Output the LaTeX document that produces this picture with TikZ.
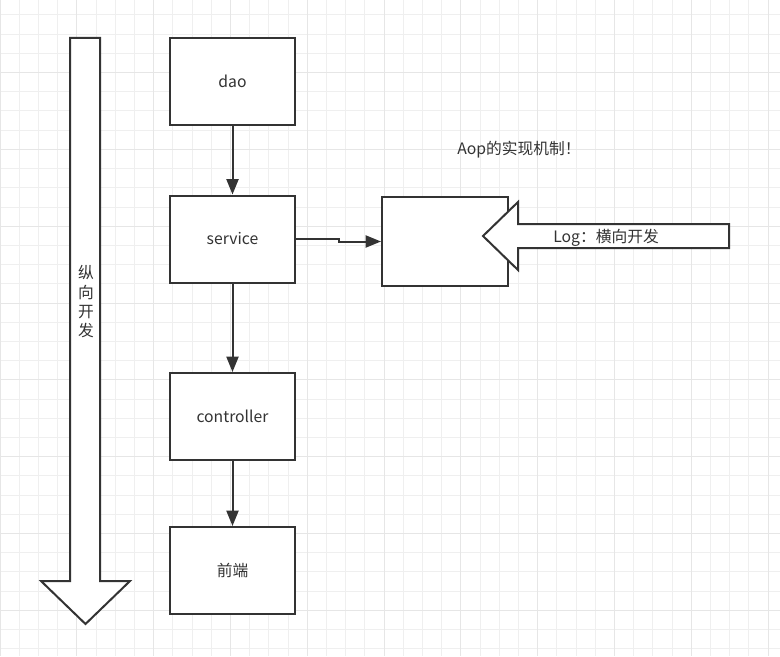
\documentclass[tikz,border=0pt]{standalone}
\usepackage{fontspec}
\setmainfont{Noto Sans CJK SC}
\usetikzlibrary{arrows.meta}
\definecolor{ink}{HTML}{333333}
\definecolor{gridminor}{HTML}{EFEFEF}
\definecolor{gridmajor}{HTML}{E6E6E6}

\begin{document}
\begin{tikzpicture}[x=0.75pt,y=-0.75pt,
    layer/.style={draw=ink,line width=1.5pt,fill=white,text=ink,
      minimum width=93.75pt,minimum height=65.25pt,font=\fontsize{11.8}{13}\selectfont},
    link/.style={draw=ink,line width=1.5pt,-{Triangle[length=11.5pt,width=9pt]}},
    fat/.style={draw=ink,line width=1.5pt,fill=white,line join=miter},
    note/.style={text=ink,font=\fontsize{11.8}{13}\selectfont}]
  \useasboundingbox (0,0) rectangle (780,656);
  %% grid
  \foreach \i in {0,...,40} {
    \pgfmathsetmacro\gx{19.2*\i}
    \draw[gridminor,line width=0.75pt] (\gx,0) -- (\gx,656);
  }
  \foreach \j in {-1,...,34} {
    \pgfmathsetmacro\gy{15+19.2*\j}
    \draw[gridminor,line width=0.75pt] (0,\gy) -- (780,\gy);
  }
  \foreach \i in {0,...,10} {
    \pgfmathsetmacro\gx{76.8*\i}
    \draw[gridmajor,line width=0.75pt] (\gx,0) -- (\gx,656);
  }
  \foreach \j in {0,...,8} {
    \pgfmathsetmacro\gy{72.6+76.8*\j-76.8}
    \draw[gridmajor,line width=0.75pt] (0,\gy) -- (780,\gy);
  }

  %% vertical development arrow
  \draw[fat] (70,38) -- (100,38) -- (100,581) -- (130,581) -- (85.5,624)
    -- (41,581) -- (70,581) -- cycle;
  \node[note,align=center,inner sep=0pt] (vertical) at (86,302)
    {纵\\[1.5pt]向\\[1.5pt]开\\[1.5pt]发};

  %% layers
  \node[layer] (dao)        at (232.5, 81.5) {dao};
  \node[layer] (service)    at (232.5,239)   {service};
  \node[layer] (controller) at (232.5,416.5) {controller};
  \node[layer] (front)      at (232.5,570.5) {前端};
  \node[layer,minimum width=94.5pt,minimum height=66.75pt] (aop) at (445,241.5) {};

  \draw[link] (dao) -- (service);
  \draw[link] (service) -- (controller);
  \draw[link] (controller) -- (front);
  \draw[link] (service.east) -- ++(43,0) |- (aop.west);

  %% horizontal log arrow
  \draw[fat] (729,224) -- (518,224) -- (518,202) -- (483,236) -- (518,270)
    -- (518,248) -- (729,248) -- cycle;
  \node[note] (log) at (606,238) {Log：横向开发};
  \node[note] (title) at (519,150) {Aop的实现机制！};
\end{tikzpicture}
\end{document}
